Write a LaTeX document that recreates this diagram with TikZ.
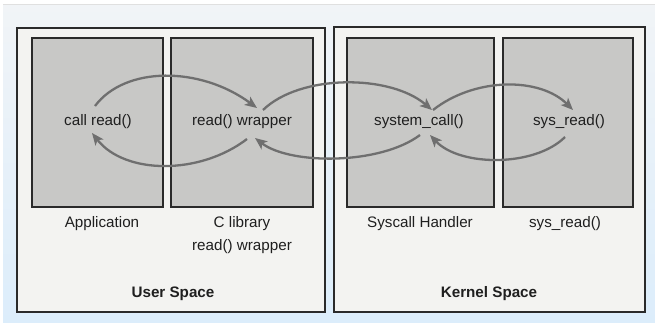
\documentclass[tikz,border=0pt]{standalone}
\usepackage{fontspec}
\setmainfont{Liberation Sans}
\usetikzlibrary{arrows.meta}
\definecolor{pagetop}{HTML}{F1F4F7}
\definecolor{pagebot}{HTML}{DCEDFB}
\definecolor{paper}{HTML}{F3F3F1}
\definecolor{panel}{HTML}{C8C8C6}
\definecolor{frame}{HTML}{2A2A2A}
\definecolor{flow}{HTML}{6F6F6F}
\tikzset{
  spacebox/.style={draw=frame, line width=1.8pt, fill=paper},
  layerbox/.style={draw=frame, line width=1.8pt, fill=panel},
  lbl/.style={font=\fontsize{15.2}{18}\selectfont, text=black!88, inner sep=0pt},
  title/.style={lbl, font=\fontsize{15.2}{18}\selectfont\bfseries},
  callflow/.style={draw=flow, line width=2.3pt,
    -{Stealth[length=12pt, width=10pt, inset=3pt]}},
}
\begin{document}
\begin{tikzpicture}[x=1pt, y=-1pt]
  \useasboundingbox (0,0) rectangle (655,322);
  % page background
  \fill[white] (0,0) rectangle (655,322);
  \shade[top color=pagetop, bottom color=pagebot] (3,4) rectangle (655,322);
  \draw[black!12, line width=0.6pt] (3,4) -- (655,4);

  % user and kernel space frames
  \path[spacebox] (17,28) rectangle (325,312);
  \path[spacebox] (334,27) rectangle (645,312);

  % component panels
  \path[layerbox] (32,38) rectangle (163,207);
  \path[layerbox] (171,38) rectangle (313,207);
  \path[layerbox] (347,38) rectangle (494,207);
  \path[layerbox] (503,38) rectangle (633,207);

  % labels inside the panels
  \node[lbl] (callread) at (98,122) {call read()};
  \node[lbl] (wrap) at (242,122) {read() wrapper};
  \node[lbl] (syscall) at (419,122) {system\_call()};
  \node[lbl] (sysread) at (569,122) {sys\_read()};

  % captions below the panels
  \node[lbl] (app) at (102,224) {Application};
  \node[lbl] (clib) at (242,224) {C library};
  \node[lbl] (clibsub) at (242,247) {read() wrapper};
  \node[lbl] (handler) at (420,224) {Syscall Handler};
  \node[lbl] (sysreadcap) at (565,224) {sys\_read()};
  \node[title] (user) at (173,294) {User Space};
  \node[title] (kernel) at (489,294) {Kernel Space};

  % end points of the call chain
  \coordinate (c1) at (95,106);   \coordinate (w1) at (257,108);
  \coordinate (w2) at (263,110);  \coordinate (s1) at (432,110);
  \coordinate (s2) at (433,110);  \coordinate (r1) at (573,110);
  \coordinate (r2) at (565,137);  \coordinate (s3) at (430,135);
  \coordinate (s4) at (420,135);  \coordinate (w3) at (255,138);
  \coordinate (w4) at (247,139);  \coordinate (c2) at (92,133);

  % forward calls
  \draw[callflow] (c1) .. controls (125,66) and (200,66) .. (w1);
  \draw[callflow] (w2) .. controls (300,74) and (390,74) .. (s1);
  \draw[callflow] (s2) .. controls (475,77) and (540,77) .. (r1);
  % returns
  \draw[callflow] (r2) .. controls (535,167) and (460,167) .. (s3);
  \draw[callflow] (s4) .. controls (380,165) and (290,165) .. (w3);
  \draw[callflow] (w4) .. controls (200,175) and (125,175) .. (c2);
\end{tikzpicture}
\end{document}
